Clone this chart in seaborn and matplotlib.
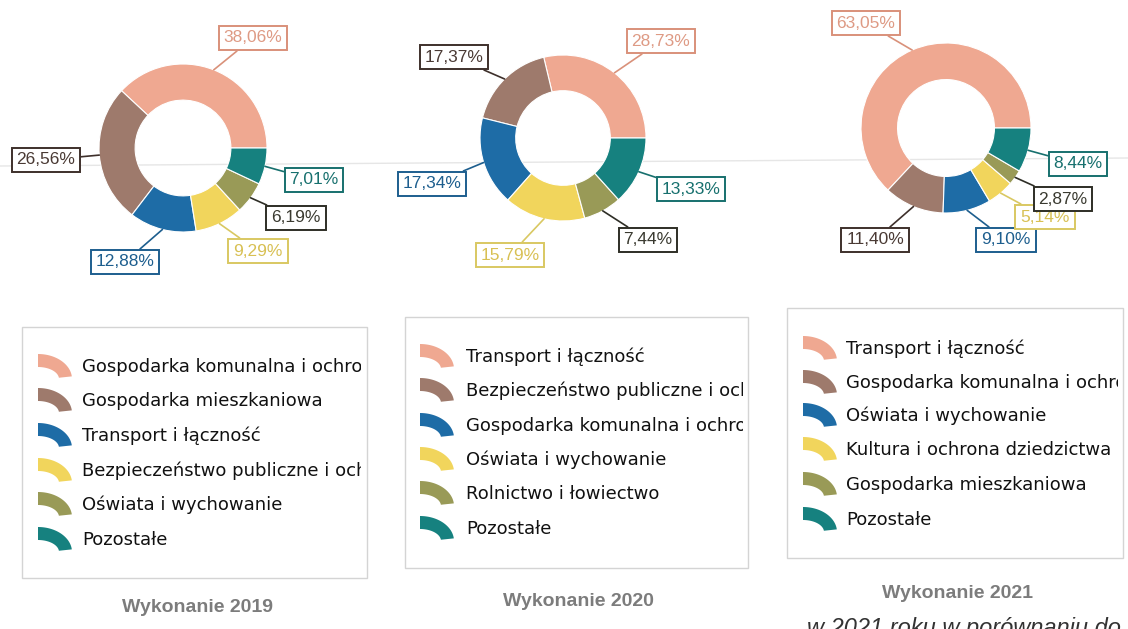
import numpy as np
import matplotlib
matplotlib.use("Agg")
import matplotlib.pyplot as plt
import seaborn as sns
from matplotlib.patches import Rectangle, Polygon
from matplotlib.transforms import Bbox, TransformedBbox

# ---- data -----------------------------------------------------------------
categories_2019 = ["Gospodarka komunalna i ochrona środowiska",
                   "Gospodarka mieszkaniowa",
                   "Transport i łączność",
                   "Bezpieczeństwo publiczne i ochrona przeciwpożarowa",
                   "Oświata i wychowanie",
                   "Pozostałe"]
values_2019 = [38.06, 26.56, 12.88, 9.29, 6.19, 7.01]

categories_2020 = ["Transport i łączność",
                   "Bezpieczeństwo publiczne i ochrona przeciwpożarowa",
                   "Gospodarka komunalna i ochrona środowiska",
                   "Oświata i wychowanie",
                   "Rolnictwo i łowiectwo",
                   "Pozostałe"]
values_2020 = [28.73, 17.37, 17.34, 15.79, 7.44, 13.33]

categories_2021 = ["Transport i łączność",
                   "Gospodarka komunalna i ochrona środowiska",
                   "Oświata i wychowanie",
                   "Kultura i ochrona dziedzictwa narodowego",
                   "Gospodarka mieszkaniowa",
                   "Pozostałe"]
values_2021 = [63.05, 11.40, 9.10, 5.14, 2.87, 8.44]

titles = ["Wykonanie 2019", "Wykonanie 2020", "Wykonanie 2021"]

# ---- styling --------------------------------------------------------------
sns.set_theme(style="white")
plt.rcParams["font.family"] = ["DejaVu Sans"]

slice_colors = sns.color_palette(["#EFA891", "#9E7A6C", "#1E6CA6",
                                  "#F1D55C", "#999A57", "#16817F"])
label_text = ["#DE9A84", "#4A3A34", "#1D5E8E", "#D8C053", "#3A3A30", "#17706E"]
label_edge = ["#D9917A", "#3E302B", "#1D5E8E", "#D9C862", "#2E2E26", "#17706E"]

W, H = 1128, 629


def Y(y):
    return H - y


fig = plt.figure(figsize=(W / 100, H / 100), dpi=100)
ax = fig.add_axes([0, 0, 1, 1])

# layout of each panel: donut centre/radius, label box centres, legend box
panels = [
    dict(values=values_2019, cats=categories_2019, center=(183, 148), r=84,
         boxes=[(253, 38), (46, 160), (125, 262), (258, 251), (296, 218), (314, 180)],
         legend=(22, 327, 367, 578), text_x=82, glyph_x=38, clip_x=361,
         rows=[367, 401, 436, 471, 505, 540], title=(197, 607)),
    dict(values=values_2020, cats=categories_2020, center=(563, 138), r=83,
         boxes=[(661, 41), (454, 57), (432, 184), (510, 255), (648, 240), (691, 189)],
         legend=(405, 317, 748, 568), text_x=466, glyph_x=420, clip_x=743,
         rows=[357, 391, 426, 460, 494, 529], title=(578, 601)),
    dict(values=values_2021, cats=categories_2021, center=(946, 128), r=85,
         boxes=[(866, 23), (875, 240), (1006, 240), (1045, 217), (1063, 199), (1078, 164)],
         legend=(787, 308, 1123, 558), text_x=846, glyph_x=803, clip_x=1118,
         rows=[349, 383, 416, 450, 485, 520], title=(958, 594)),
]


def fmt(v):
    return f"{v:.2f}".replace(".", ",") + "%"


def arc_glyph(x0, row, color):
    t = np.linspace(np.radians(6), np.radians(90), 40)
    cx, cy = x0, Y(row) - 12
    outer = np.c_[cx + 34 * np.cos(t), cy + 25 * np.sin(t)]
    inner = np.c_[cx + 21 * np.cos(t), cy + 12 * np.sin(t)][::-1]
    ax.add_patch(Polygon(np.vstack([outer, inner]), closed=True,
                         facecolor=color, edgecolor="none", zorder=2))


# faint rule running across the page
ax.plot([0, W], [Y(166), Y(158)], color="#e6e6e6", lw=1.0, zorder=0)

for k, p in enumerate(panels):
    cx, cy = p["center"]
    r = p["r"]
    wedges, _ = ax.pie(p["values"], colors=slice_colors, startangle=0,
                       counterclock=True, radius=r, center=(cx, Y(cy)),
                       frame=True,
                       wedgeprops=dict(width=r * 0.43, edgecolor="white",
                                       linewidth=0.8))
    # value labels with leader lines
    for i, (w, v) in enumerate(zip(wedges, p["values"])):
        ang = np.radians((w.theta1 + w.theta2) / 2)
        anchor = (cx + r * np.cos(ang), Y(cy) + r * np.sin(ang))
        bx, by = p["boxes"][i]
        ax.annotate(fmt(v), xy=anchor, xytext=(bx, Y(by)),
                    ha="center", va="center", fontsize=12.5,
                    family="Liberation Sans", color=label_text[i],
                    bbox=dict(boxstyle="square,pad=0.28", fc="white",
                              ec=label_edge[i], lw=1.4),
                    arrowprops=dict(arrowstyle="-", color=label_edge[i],
                                    lw=1.2, shrinkA=0, shrinkB=0),
                    zorder=5 + i)

    # legend frame
    x0, y0, x1, y1 = p["legend"]
    ax.add_patch(Rectangle((x0, Y(y1)), x1 - x0, y1 - y0, facecolor="white",
                           edgecolor="#d4d4d4", lw=1.0, zorder=1))
    clip = TransformedBbox(Bbox.from_extents(x0, Y(y1), p["clip_x"], Y(y0)),
                           ax.transData)
    for i, (cat, row) in enumerate(zip(p["cats"], p["rows"])):
        arc_glyph(p["glyph_x"], row, slice_colors[i])
        t = ax.text(p["text_x"], Y(row), cat, ha="left", va="center",
                    fontsize=13, color="#111111", zorder=3)
        t.set_clip_box(clip)
        t.set_clip_on(True)

    tx, ty = p["title"]
    ax.text(tx, Y(ty), titles[k], ha="center", va="center", fontsize=14,
            fontweight="bold", family="Liberation Sans", color="#7c7c7c")

# start of the following paragraph, cut by the page edge
ax.text(1121, Y(635), "w 2021 roku w porównaniu do", ha="right",
        va="baseline", fontsize=17, style="italic", family="Liberation Sans",
        color="#333333")

ax.set_xlim(0, W)
ax.set_ylim(0, H)
ax.set_aspect("auto")
ax.axis("off")
fig.savefig("out.png", dpi=100, facecolor="white")
